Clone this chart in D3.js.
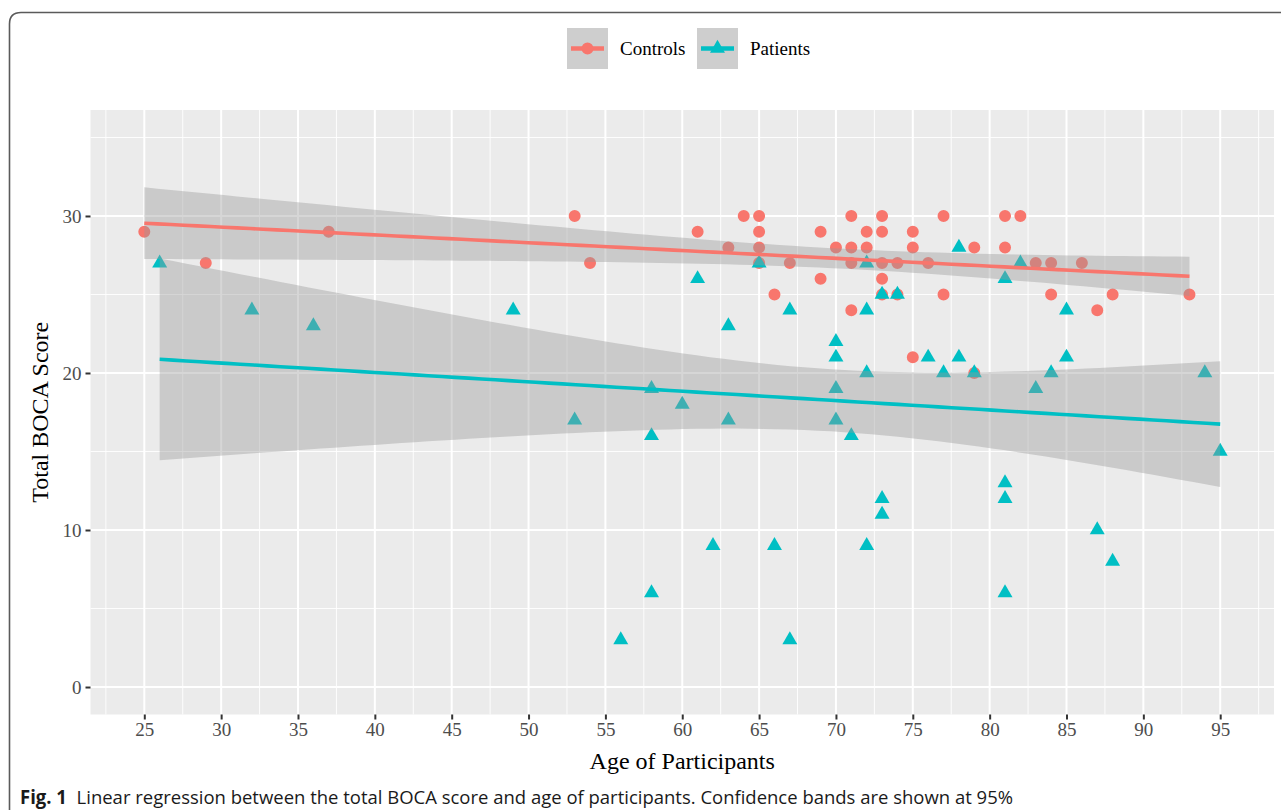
<!DOCTYPE html>
<html lang="en">
  <head>
    <meta charset="UTF-8" />
    <title>BOCA score by age</title>
    <script src="https://d3js.org/d3.v7.min.js"></script>
    <style>
      body { margin: 0; background: #ffffff; }
      svg { display: block; }
    </style>
  </head>
  <body>
    <svg id="chart" width="1281" height="810"></svg>
    <script>
      // values
      const controlsAge = [25, 29, 37, 53, 54, 61, 63, 64, 65, 65, 65, 65, 66, 67, 69, 69, 70,
        71, 71, 71, 71, 72, 72, 73, 73, 73, 73, 73, 74, 74, 75, 75, 75, 76, 77, 77,
        79, 79, 81, 81, 82, 83, 84, 84, 86, 87, 88, 93];
      const controlsScore = [29, 27, 29, 30, 27, 29, 28, 30, 30, 29, 28, 27, 25, 27, 29, 26, 28,
        30, 28, 27, 24, 29, 28, 30, 29, 27, 26, 25, 27, 25, 29, 28, 21, 27, 30, 25,
        28, 20, 30, 28, 30, 27, 27, 25, 27, 24, 25, 25];

      const patientsAge = [26, 32, 36, 49, 53, 56, 58, 58, 58, 60, 61, 62, 63, 63, 65, 66, 67, 67,
        70, 70, 70, 70, 71, 72, 72, 72, 72, 73, 73, 73, 74, 76, 77, 78, 78, 79,
        81, 81, 81, 81, 82, 83, 84, 85, 85, 87, 88, 94, 95];
      const patientsScore = [27, 24, 23, 24, 17, 3, 19, 16, 6, 18, 26, 9, 23, 17, 27, 9, 24, 3,
        22, 21, 19, 17, 16, 27, 24, 20, 9, 25, 12, 11, 25, 21, 20, 28, 21, 20,
        26, 13, 12, 6, 27, 19, 20, 24, 21, 10, 8, 20, 15];

      const xTicks = [25, 30, 35, 40, 45, 50, 55, 60, 65, 70, 75, 80, 85, 90, 95];
      const xMinor = [22.5, 27.5, 32.5, 37.5, 42.5, 47.5, 52.5, 57.5, 62.5, 67.5, 72.5, 77.5, 82.5, 87.5, 92.5, 97.5];
      const yTicks = [0, 10, 20, 30];
      const yMinor = [5, 15, 25, 35];

      const groups = ["Controls", "Patients"];
      const groupColors = ["#F8766D", "#00BFC4"];

      const svg = d3.select("#chart");
      const serif = "'Liberation Serif', 'Times New Roman', serif";

      const panel = { left: 90.5, right: 1274, top: 110, bottom: 714.5 };

      // ggplot-style 5% expansion
      const x = d3.scaleLinear().domain([21.5, 98.5]).range([panel.left, panel.right]);
      const y = d3.scaleLinear().domain([-1.75, 36.75]).range([panel.bottom, panel.top]);

      // outer frame of the figure
      svg.append("path")
        .attr("d", "M9.5,830 L9.5,24 Q9.5,12.5 21,12.5 L1300,12.5")
        .attr("fill", "none")
        .attr("stroke", "#5a5a5a")
        .attr("stroke-width", 1.6);

      // panel
      svg.append("rect")
        .attr("x", panel.left).attr("y", panel.top)
        .attr("width", panel.right - panel.left)
        .attr("height", panel.bottom - panel.top)
        .attr("fill", "#EBEBEB");

      const grid = svg.append("g").attr("stroke", "#ffffff");
      grid.selectAll(".xminor").data(xMinor).join("line")
        .attr("x1", d => x(d)).attr("x2", d => x(d))
        .attr("y1", panel.top).attr("y2", panel.bottom)
        .attr("stroke-width", 0.9);
      grid.selectAll(".yminor").data(yMinor).join("line")
        .attr("y1", d => y(d)).attr("y2", d => y(d))
        .attr("x1", panel.left).attr("x2", panel.right)
        .attr("stroke-width", 0.9);
      grid.selectAll(".xmajor").data(xTicks).join("line")
        .attr("x1", d => x(d)).attr("x2", d => x(d))
        .attr("y1", panel.top).attr("y2", panel.bottom)
        .attr("stroke-width", 2);
      grid.selectAll(".ymajor").data(yTicks).join("line")
        .attr("y1", d => y(d)).attr("y2", d => y(d))
        .attr("x1", panel.left).attr("x2", panel.right)
        .attr("stroke-width", 2);

      // linear fit with 95% band, like geom_smooth(method = "lm")
      function tQuantile(df) {
        const z = 1.959964;
        return z + (z ** 3 + z) / (4 * df) +
          (5 * z ** 5 + 16 * z ** 3 + 3 * z) / (96 * df * df) +
          (3 * z ** 7 + 19 * z ** 5 + 17 * z ** 3 - 15 * z) / (384 * df ** 3);
      }
      function lmFit(xs, ys) {
        const n = xs.length;
        const mx = d3.mean(xs), my = d3.mean(ys);
        let sxx = 0, sxy = 0;
        xs.forEach((v, i) => { sxx += (v - mx) ** 2; sxy += (v - mx) * (ys[i] - my); });
        const b = sxy / sxx, a = my - b * mx;
        let sse = 0;
        xs.forEach((v, i) => { sse += (ys[i] - a - b * v) ** 2; });
        const s = Math.sqrt(sse / (n - 2));
        const t = tQuantile(n - 2);
        const [lo, hi] = d3.extent(xs);
        const pts = d3.range(80).map(k => {
          const xv = lo + (hi - lo) * k / 79;
          const fitv = a + b * xv;
          const se = s * Math.sqrt(1 / n + (xv - mx) ** 2 / sxx);
          return { x: xv, fit: fitv, lo: fitv - t * se, hi: fitv + t * se };
        });
        return pts;
      }

      const series = [
        { name: groups[0], ages: controlsAge, scores: controlsScore, color: groupColors[0], shape: d3.symbolCircle, size: 113 },
        { name: groups[1], ages: patientsAge, scores: patientsScore, color: groupColors[1], shape: d3.symbolTriangle, size: 97 }
      ];

      // points first, the bands sit on top of them
      series.forEach(s => {
        svg.append("g").selectAll("path")
          .data(s.ages.map((a, i) => [a, s.scores[i]]))
          .join("path")
          .attr("transform", d => `translate(${x(d[0])},${y(d[1])})`)
          .attr("d", d3.symbol(s.shape, s.size))
          .attr("fill", s.color);
      });

      const area = d3.area().x(d => x(d.x)).y0(d => y(d.lo)).y1(d => y(d.hi));
      const line = d3.line().x(d => x(d.x)).y(d => y(d.fit));
      series.forEach(s => {
        const pts = lmFit(s.ages, s.scores);
        svg.append("path").datum(pts)
          .attr("d", area)
          .attr("fill", "#999999")
          .attr("fill-opacity", 0.4);
        svg.append("path").datum(pts)
          .attr("d", line)
          .attr("fill", "none")
          .attr("stroke", s.color)
          .attr("stroke-width", 3.6);
      });

      // axes
      const xAxis = svg.append("g")
        .attr("transform", `translate(0,${panel.bottom})`)
        .call(d3.axisBottom(x).tickValues(xTicks).tickSize(5).tickPadding(3));
      const yAxis = svg.append("g")
        .attr("transform", `translate(${panel.left},0)`)
        .call(d3.axisLeft(y).tickValues(yTicks).tickSize(5).tickPadding(4));
      [xAxis, yAxis].forEach(g => {
        g.select(".domain").remove();
        g.selectAll(".tick line").attr("stroke", "#333333").attr("stroke-width", 2);
        g.selectAll(".tick text")
          .attr("fill", "#4D4D4D")
          .style("font-family", serif)
          .style("font-size", "19px");
      });

      svg.append("text")
        .attr("x", (panel.left + panel.right) / 2)
        .attr("y", 769)
        .attr("text-anchor", "middle")
        .style("font-family", serif)
        .style("font-size", "24px")
        .attr("fill", "#000")
        .text("Age of Participants");

      svg.append("text")
        .attr("transform", `translate(48,${(panel.top + panel.bottom) / 2}) rotate(-90)`)
        .attr("text-anchor", "middle")
        .style("font-family", serif)
        .style("font-size", "24px")
        .attr("fill", "#000")
        .text("Total BOCA Score");

      // legend
      const legendX = [567, 697];
      const legend = svg.append("g");
      series.forEach((s, i) => {
        const g = legend.append("g").attr("transform", `translate(${legendX[i]},28)`);
        g.append("rect").attr("width", 41).attr("height", 41).attr("fill", "#F2F2F2");
        g.append("rect").attr("width", 41).attr("height", 41).attr("fill", "#999999").attr("fill-opacity", 0.4);
        g.append("line")
          .attr("x1", 4).attr("x2", 37).attr("y1", 20.5).attr("y2", 20.5)
          .attr("stroke", s.color).attr("stroke-width", 4.5);
        g.append("path")
          .attr("transform", "translate(20.5,20.5)")
          .attr("d", d3.symbol(s.shape, s.size))
          .attr("fill", s.color);
        g.append("text")
          .attr("x", 53).attr("y", 27)
          .style("font-family", serif)
          .style("font-size", "19px")
          .attr("fill", "#000")
          .text(s.name);
      });

      // caption, condensed to the printed width
      const caption = svg.append("text")
        .attr("x", 20).attr("y", 804)
        .style("font-family", "'Open Sans', 'Noto Sans', sans-serif")
        .style("font-size", "19px")
        .attr("fill", "#1a1a1a");
      caption.append("tspan").style("font-weight", "bold").text("Fig. 1");
      caption.append("tspan").attr("dx", 10)
        .text("Linear regression between the total BOCA score and age of participants. Confidence bands are shown at 95%");
      caption.attr("textLength", 1013 - 20).attr("lengthAdjust", "spacingAndGlyphs");
    </script>
  </body>
</html>
